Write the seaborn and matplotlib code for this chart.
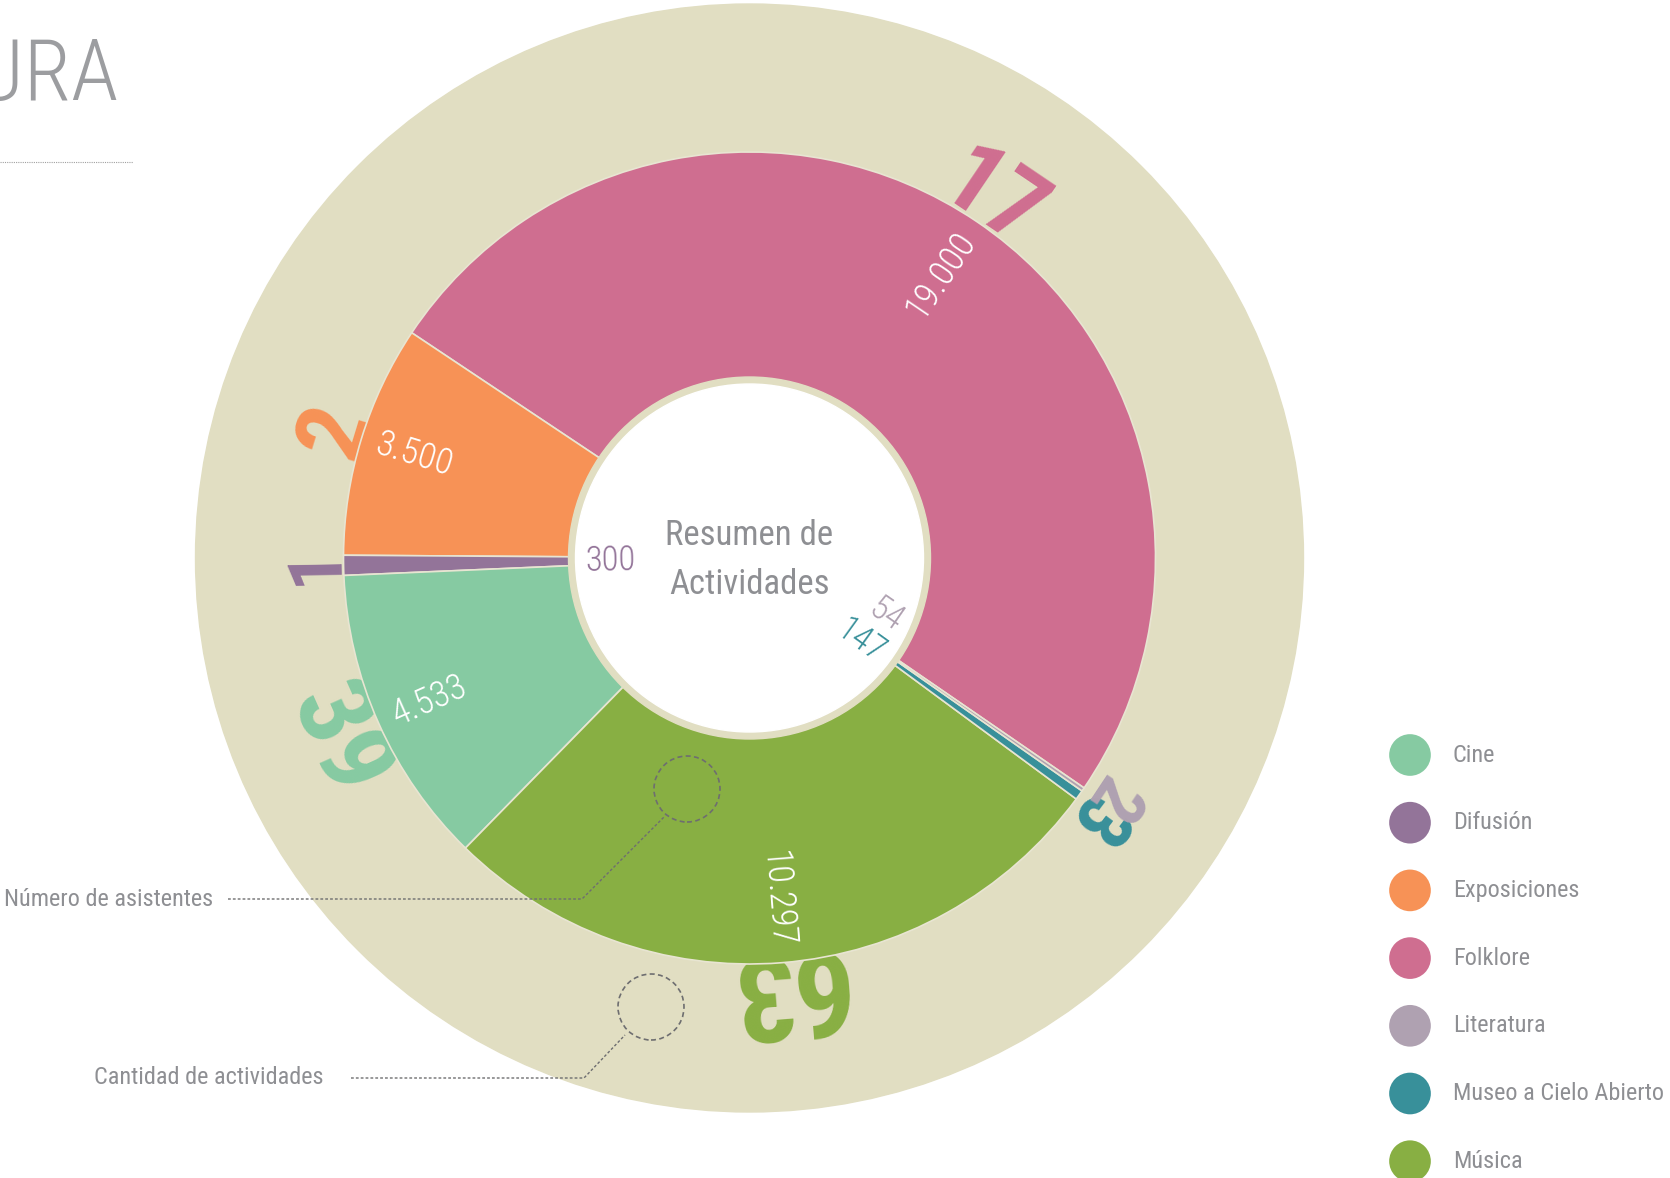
# % Import libraries
import matplotlib.pyplot as plt
import numpy as np
import seaborn as sns
from matplotlib import font_manager
from matplotlib.patches import Circle

# % Data
categories = [
    "Cine",
    "Difusión",
    "Exposiciones",
    "Folklore",
    "Literatura",
    "Museo a Cielo Abierto",
    "Música",
]
asistentes = [4533, 300, 3500, 19000, 54, 147, 10297]
actividades = [39, 1, 2, 17, 2, 3, 63]
colores = ["#86CAA2", "#937499", "#F79256", "#CF6E90", "#AFA1B1", "#38909A", "#88AF43"]
# order of the wedges, counter-clockwise starting from the Folklore wedge
ring_order = [
    "Folklore",
    "Exposiciones",
    "Difusión",
    "Cine",
    "Música",
    "Museo a Cielo Abierto",
    "Literatura",
]
titulo = "CULTURA"
centro_texto = "Resumen de\nActividades"
nota_asistentes = "Número de asistentes"
nota_actividades = "Cantidad de actividades"

# % Fonts
available = {f.name for f in font_manager.fontManager.ttflist}


def pick(*names):
    for n in names:
        if n in available:
            return n
    return "DejaVu Sans"


NARROW = pick("Liberation Sans Narrow", "Roboto Condensed", "Open Sans Condensed", "Liberation Sans")

sns.set_theme(style="white")
plt.rcParams["font.family"] = [NARROW, "DejaVu Sans"]

# % Geometry (pixels, y up)
W, H = 1670, 1178
CX, CY = 749.5, H - 558
R_BG = 554
R_PIE = 406
R_RING = 180
R_HOLE = 174
BEIGE = "#E1DEC2"
GRIS = "#8E8F93"
LINEA = "#6E6E70"

fig = plt.figure(figsize=(W / 100, H / 100), dpi=100)
ax = fig.add_axes([0, 0, 1, 1])

# beige background disk (activities ring)
ax.add_patch(Circle((CX, CY), R_BG, color=BEIGE, zorder=0))

vals = [asistentes[categories.index(c)] for c in ring_order]
cols = [colores[categories.index(c)] for c in ring_order]
wedges, _ = ax.pie(
    vals,
    colors=cols,
    startangle=-34.5,
    counterclock=True,
    radius=R_PIE,
    center=(CX, CY),
    wedgeprops=dict(width=R_PIE - R_RING, edgecolor="#E8E5D2", linewidth=1.2, zorder=1),
)

# center hole
ax.add_patch(Circle((CX, CY), R_RING + 1, color=BEIGE, zorder=2))
ax.add_patch(Circle((CX, CY), R_HOLE, color="white", zorder=2.1))
ax.text(
    CX, CY - 2, centro_texto, ha="center", va="center", fontsize=25, color=GRIS,
    linespacing=1.6, multialignment="center", zorder=3,
)

# % Labels per wedge
outer_size = {
    "Folklore": 72, "Exposiciones": 70, "Difusión": 55, "Cine": 78,
    "Música": 86, "Museo a Cielo Abierto": 56, "Literatura": 52,
}
outer_nudge = {"Literatura": 1.2, "Museo a Cielo Abierto": -1.4}
flipped = ["Cine"]  # digits face the center instead of outwards
hole_angle = {"Literatura": -24.0, "Museo a Cielo Abierto": -36.5}
small = ["Difusión", "Literatura", "Museo a Cielo Abierto"]

for w, cat in zip(wedges, ring_order):
    i = categories.index(cat)
    col = colores[i]
    mid = (w.theta1 + w.theta2) / 2
    right = np.cos(np.deg2rad(mid)) > 0

    # number of activities, outside the pie, partly hidden under it
    a = mid + outer_nudge.get(cat, 0)
    size = outer_size[cat]
    if cat in flipped:
        rb, rot = 440 + size / 2, a + 90
    else:
        rb, rot = 440 - size / 2, a - 90
    ax.text(
        CX + rb * np.cos(np.deg2rad(a)), CY + rb * np.sin(np.deg2rad(a)),
        str(actividades[i]), rotation=rot, rotation_mode="anchor",
        ha="center", va="baseline", fontsize=size, fontweight="bold",
        color=col, zorder=0.5,
    )

    # number of attendees
    label = f"{asistentes[i]:,}".replace(",", ".")
    if cat in small:
        a = hole_angle.get(cat, mid)
        r = 164
        color, fs = col, 25
    else:
        a = mid
        r = 390
        color, fs = "white", 26
    ax.text(
        CX + r * np.cos(np.deg2rad(a)), CY + r * np.sin(np.deg2rad(a)),
        label, rotation=mid if right else mid - 180, rotation_mode="anchor",
        ha="right" if right else "left", va="center", fontsize=fs,
        fontweight="light", color=color, zorder=3,
    )

# % Legend
leg_y = [H - (755 + k * 67.7) for k in range(len(categories))]
sns.scatterplot(
    x=[1410] * len(categories), y=leg_y, hue=categories,
    palette=dict(zip(categories, colores)), s=900, linewidth=0,
    legend=False, ax=ax, zorder=3,
)
for cat, y in zip(categories, leg_y):
    ax.text(1453, y, cat, ha="left", va="center", fontsize=17.5, color=GRIS)

# % Title and notes
ax.text(118, H - 100, titulo, ha="right", va="baseline", fontsize=62,
        fontweight="light", color="#9C9DA0")
ax.plot([0, 133], [H - 162, H - 162], ls=(0, (1, 1)), color="#A0A0A0", lw=0.8)

ax.text(4, H - 899, nota_asistentes, ha="left", va="center", fontsize=17.5, color=GRIS)
ax.plot([228, 582, 664], [H - 899, H - 899, H - 817], ls=(0, (2, 1.5)), color=LINEA, lw=1, zorder=3)
ax.add_patch(Circle((687, H - 789), 33, fill=False, ls=(0, (3, 2)), ec=LINEA, lw=1.2, zorder=3))

ax.text(94, H - 1077, nota_actividades, ha="left", va="center", fontsize=17.5, color=GRIS)
ax.plot([351, 584, 625], [H - 1078, H - 1078, H - 1035], ls=(0, (2, 1.5)), color=LINEA, lw=1, zorder=3)
ax.add_patch(Circle((651, H - 1007), 33, fill=False, ls=(0, (3, 2)), ec=LINEA, lw=1.2, zorder=3))

ax.set_xlim(0, W)
ax.set_ylim(0, H)
ax.set_axis_off()

plt.savefig("out.png", dpi=100, facecolor="white")
